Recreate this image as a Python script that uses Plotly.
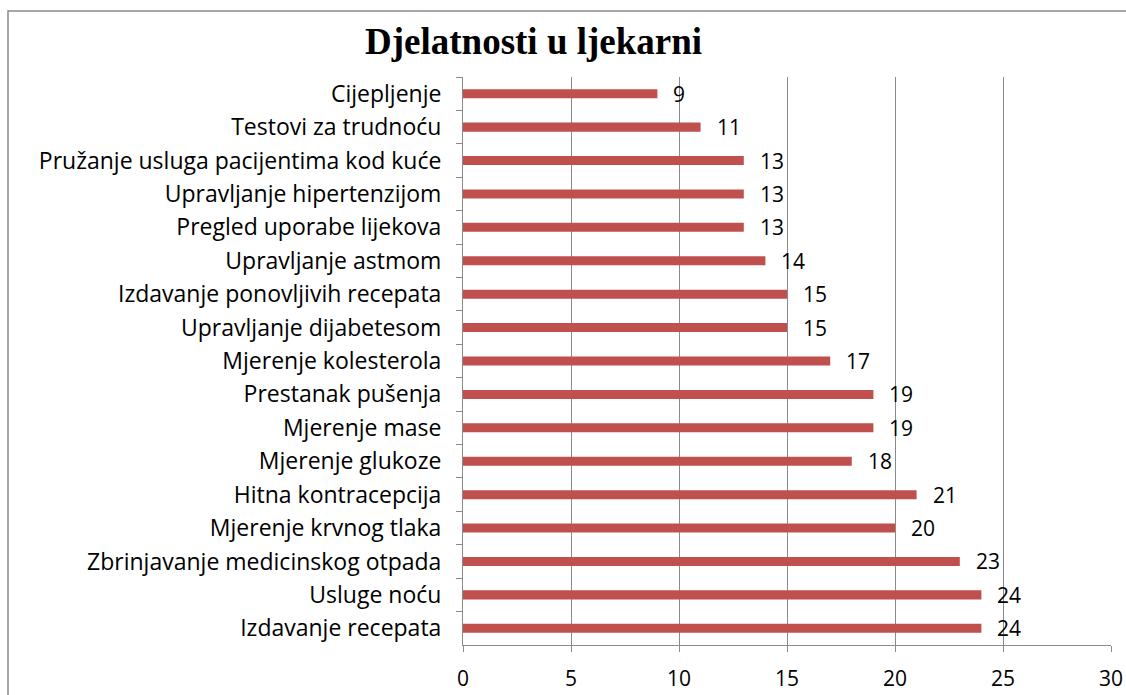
import plotly.graph_objects as go

categories = [
    "Cijepljenje",
    "Testovi za trudnoću",
    "Pružanje usluga pacijentima kod kuće",
    "Upravljanje hipertenzijom",
    "Pregled uporabe lijekova",
    "Upravljanje astmom",
    "Izdavanje ponovljivih recepata",
    "Upravljanje dijabetesom",
    "Mjerenje kolesterola",
    "Prestanak pušenja",
    "Mjerenje mase",
    "Mjerenje glukoze",
    "Hitna kontracepcija",
    "Mjerenje krvnog tlaka",
    "Zbrinjavanje medicinskog otpada",
    "Usluge noću",
    "Izdavanje recepata",
]
values = [9, 11, 13, 13, 13, 14, 15, 15, 17, 19, 19, 18, 21, 20, 23, 24, 24]
x_ticks = [0, 5, 10, 15, 20, 25, 30]
title_text = "Djelatnosti u ljekarni"

W, H = 1126, 695
L, R, T, B = 463, 15, 77, 50
pw, ph = W - L - R, H - T - B

FONT = "Open Sans, Noto Sans, sans-serif"

def px_x(p):
    return (p - L) / pw

def px_y(p):
    return (H - B - p) / ph

fig = go.Figure()
fig.add_trace(go.Bar(
    x=values, y=categories, orientation="h",
    marker=dict(color="#C0504D", line=dict(width=0)),
    hoverinfo="x+y",
))

for c, v in zip(categories, values):
    fig.add_annotation(x=v, y=c, text=str(v), showarrow=False,
                       xanchor="left", yanchor="middle", xshift=14,
                       font=dict(family=FONT, size=21, color="#000"))

fig.add_shape(type="rect", xref="paper", yref="paper",
              x0=px_x(8), x1=px_x(1140), y0=px_y(720), y1=px_y(11),
              line=dict(color="#8a8a8a", width=1.5), layer="below")

fig.add_annotation(text="<b>" + title_text + "</b>", xref="paper", yref="paper",
                   x=px_x(533), y=px_y(42), xanchor="center", yanchor="middle",
                   showarrow=False,
                   font=dict(family="Liberation Serif, Times New Roman, serif", size=37, color="#000"))

fig.update_layout(
    width=W, height=H,
    margin=dict(l=L, r=R, t=T, b=B, autoexpand=False),
    paper_bgcolor="white", plot_bgcolor="white",
    bargap=0.73,
    showlegend=False,
    xaxis=dict(range=[0, 30], tickvals=x_ticks, showgrid=True, gridcolor="#8a8a8a", gridwidth=1,
               zeroline=False, showline=True, linecolor="#8a8a8a", linewidth=1,
               ticks="outside", ticklen=6, tickcolor="#8a8a8a",
               tickfont=dict(family=FONT, size=21, color="#000"),
               ticklabelstandoff=9, fixedrange=True, automargin=False),
    yaxis=dict(autorange="reversed", showgrid=False, zeroline=False,
               showline=True, linecolor="#8a8a8a", linewidth=1,
               ticks="outside", ticklen=6, tickcolor="#8a8a8a", tickson="boundaries",
               tickfont=dict(family=FONT, size=23, color="#000"),
               ticklabelstandoff=16, fixedrange=True, automargin=False),
)

fig.write_html("out.html", config={"displayModeBar": False},
               post_script="document.body.style.margin='0';document.body.style.overflow='hidden';")
